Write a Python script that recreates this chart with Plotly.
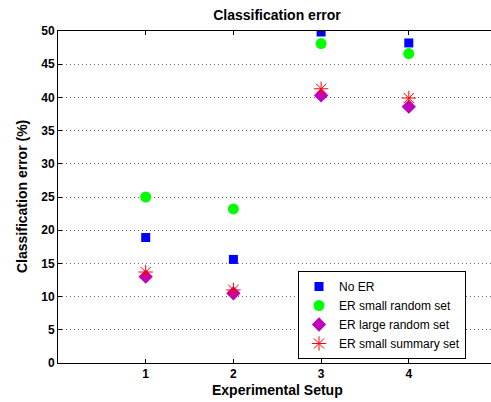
import plotly.graph_objects as go

setups = [1, 2, 3, 4]
no_er = [18.9, 15.6, 49.85, 48.2]
er_small_random = [25.0, 23.2, 48.1, 46.6]
er_large_random = [13.0, 10.5, 40.3, 38.6]
er_small_summary = [13.7, 11.0, 41.3, 39.9]

FONT = "Liberation Sans, Arial, sans-serif"
L, T, B = 58, 31, 39
W, H = 491, 402
PW = W - L
PH = H - T - B

fig = go.Figure()
fig.add_trace(go.Scatter(x=setups, y=no_er, mode="markers", name="No ER",
                         marker=dict(symbol="square", size=9, color="#0000ff")))
fig.add_trace(go.Scatter(x=setups, y=er_small_random, mode="markers", name="ER small random set",
                         marker=dict(symbol="circle", size=11, color="#00ff00")))
fig.add_trace(go.Scatter(x=setups, y=er_large_random, mode="markers", name="ER large random set",
                         marker=dict(symbol="diamond", size=11, color="#bf00bf")))
fig.add_trace(go.Scatter(x=setups, y=er_small_summary, mode="markers", name="ER small summary set",
                         marker=dict(symbol="asterisk-open", size=12, color="#ff0000",
                                     line=dict(color="#ff0000", width=1))))

fig.update_layout(
    width=W, height=H,
    margin=dict(l=L, r=0, t=T, b=B, autoexpand=False),
    paper_bgcolor="white", plot_bgcolor="white",
    font=dict(family=FONT, color="black", size=12),
    title=dict(text="Classification error", x=(58 + 496) / 2 / W, xanchor="center",
               y=1 - 15 / H, yanchor="middle",
               font=dict(size=14, weight="bold", family=FONT)),
    showlegend=True,
    legend=dict(x=(298 - L) / PW, y=(363 - 359) / PH, xanchor="left", yanchor="bottom",
                bgcolor="white", bordercolor="black", borderwidth=1,
                font=dict(size=12, family=FONT), tracegroupgap=0, itemwidth=30),
    annotations=[
        dict(text="<b>Experimental Setup</b>", xref="paper", yref="paper",
             x=(277 - L) / PW, y=-(390 - 363) / PH, xanchor="center", yanchor="middle",
             showarrow=False, font=dict(size=14, family=FONT)),
        dict(text="<b>Classification error (%)</b>", xref="paper", yref="paper",
             x=-(L - 22) / PW, y=0.5, xanchor="center", yanchor="middle", textangle=-90,
             showarrow=False, font=dict(size=14, family=FONT)),
    ],
)
fig.update_xaxes(
    range=[0, PW / 87.7], tickvals=setups, ticktext=[str(s) for s in setups],
    showgrid=False, zeroline=False, showline=True, linecolor="black", linewidth=1,
    mirror="ticks", ticks="inside", ticklen=4, tickcolor="black", automargin=False,
    tickfont=dict(size=12, weight="bold", family=FONT),
)
fig.update_yaxes(
    range=[0, 50], dtick=5, showgrid=True, gridcolor="#666666", griddash="1px,3px", gridwidth=1,
    zeroline=False, showline=True, linecolor="black", linewidth=1, automargin=False,
    ticks="inside", ticklen=4, tickcolor="black",
    tickfont=dict(size=12, weight="bold", family=FONT),
)

fig.write_html("out.html", config={"displayModeBar": False},
               post_script="document.body.style.margin='0';")
